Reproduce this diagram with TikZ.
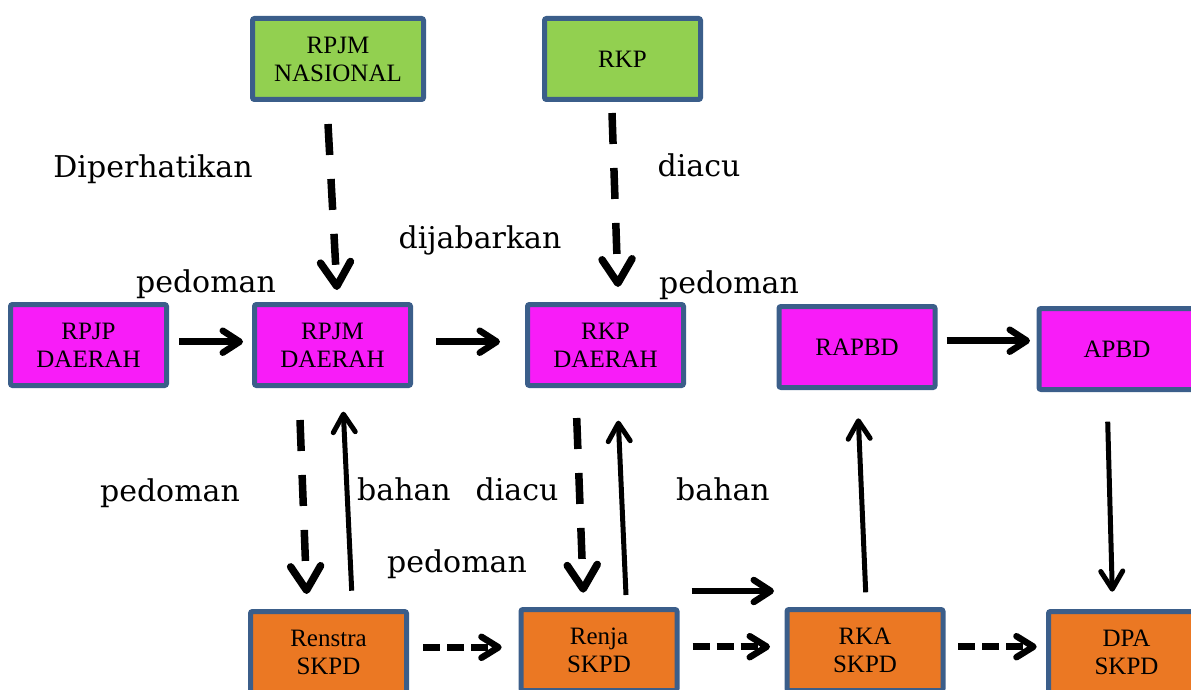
\documentclass[tikz,border=0pt]{standalone}
\usepackage{fontspec}
\setmainfont{Liberation Serif}
\newfontfamily\lblfont{DejaVu Serif}
\usetikzlibrary{arrows.meta,calc}
\definecolor{bxgreen}{HTML}{92D050}
\definecolor{bxmag}{HTML}{F81CF8}
\definecolor{bxorange}{HTML}{EB7823}
\definecolor{bxline}{HTML}{3B5E8A}
\begin{document}
\begin{tikzpicture}[x=1pt,y=-1pt,
  box/.style={draw=bxline,line width=5pt,rounded corners=2pt,inner sep=0pt,
    align=center,font=\fontsize{25}{28}\selectfont,minimum height=81pt,minimum width=156pt},
  gbox/.style={box,fill=bxgreen},
  mbox/.style={box,fill=bxmag},
  obox/.style={box,fill=bxorange},
  lbl/.style={font=\lblfont\fontsize{30}{36}\selectfont,anchor=base,inner sep=0pt},
  solidh/.style={line width=6.5pt,-{Straight Barb[length=17pt,width=22pt,round]}},
  solidv/.style={line width=5pt,-{Straight Barb[length=18pt,width=22pt,round]}},
  dashv/.style={line width=7.5pt,dash pattern=on 31pt off 24pt,-{Straight Barb[length=24pt,width=30pt,round]}},
  dashh/.style={line width=6.5pt,dash pattern=on 17pt off 7pt,-{Straight Barb[length=17pt,width=21pt,round]}}
]
\useasboundingbox (0,0) rectangle (1191,690);
\clip (0,0) rectangle (1191,690);

% boxes
\node[gbox,minimum width=171pt] (rpjmn) at (338,59) {RPJM\\NASIONAL};
\node[gbox] (rkp) at (622.5,59) {RKP};
\node[mbox] (rpjp) at (88.5,345) {RPJP\\DAERAH};
\node[mbox] (rpjmd) at (332.5,345) {RPJM\\DAERAH};
\node[mbox] (rkpd) at (605.5,345) {RKP\\DAERAH};
\node[mbox] (rapbd) at (857,347) {RAPBD};
\node[mbox] (apbd) at (1117,349) {APBD};
\node[obox] (renstra) at (328.5,652) {Renstra\\SKPD};
\node[obox] (renja) at (599,650) {Renja\\SKPD};
\node[obox] (rka) at (865,650) {RKA\\SKPD};
\node[obox] (dpa) at (1126.5,652) {DPA\\SKPD};

% labels
\node[lbl] (l1) at (153,177) {Diperhatikan};
\node[lbl] (l2) at (699,176) {diacu};
\node[lbl] (l3) at (480,248) {dijabarkan};
\node[lbl] (l4) at (206,292) {pedoman};
\node[lbl] (l5) at (729,293) {pedoman};
\node[lbl] (l6) at (170,501) {pedoman};
\node[lbl] (l7) at (404,500) {bahan};
\node[lbl] (l8) at (517,500) {diacu};
\node[lbl] (l9) at (457,572) {pedoman};
\node[lbl] (l10) at (723,500) {bahan};

% connectors
\draw[dashv] ($(rpjmn.center)+(-10,65)$) -- ($(rpjmd.center)+(4.5,-55)$);
\draw[dashv] ($(rkp.center)+(-10.5,54)$) -- ($(rkpd.center)+(12.5,-58)$);
\draw[solidh] ($(rpjp.center)+(90.5,-3.3)$) -- ($(rpjmd.center)+(-89.5,-3.3)$);
\draw[solidh] ($(rpjmd.center)+(103.5,-3.3)$) -- ($(rkpd.center)+(-105.5,-3.3)$);
\draw[solidh] ($(rapbd.center)+(89.7,-6.3)$) -- ($(apbd.center)+(-87,-8.3)$);
\draw[solidv] ($(apbd.center)+(-9.3,72.7)$) -- ($(dpa.center)+(-14.2,-60.3)$);
\draw[dashv] ($(rpjmd.center)+(-32.5,75)$) -- ($(renstra.center)+(-21.8,-58)$);
\draw[solidv] ($(renstra.center)+(23.2,-61.3)$) -- ($(rpjmd.center)+(10.8,66.7)$);
\draw[dashv] ($(rkpd.center)+(-28.8,73)$) -- ($(renja.center)+(-15.7,-57.3)$);
\draw[solidv] ($(renja.center)+(27,-55)$) -- ($(rkpd.center)+(12.8,75.7)$);
\draw[solidv] ($(rka.center)+(0.7,-57.7)$) -- ($(rapbd.center)+(1.3,71.3)$);
\draw[dashh] ($(renstra.center)+(94.5,-4.7)$) -- ($(renja.center)+(-97.3,-2.7)$);
\draw[dashh] ($(renja.center)+(93.7,-3.3)$) -- ($(rka.center)+(-95,-3.3)$);
\draw[dashh] ($(rka.center)+(93.3,-3.3)$) -- ($(dpa.center)+(-89.8,-5.3)$);
\draw[solidh] ($(renja.center)+(92.7,-59)$) -- ($(rka.center)+(-91,-59)$);
\end{tikzpicture}
\end{document}
